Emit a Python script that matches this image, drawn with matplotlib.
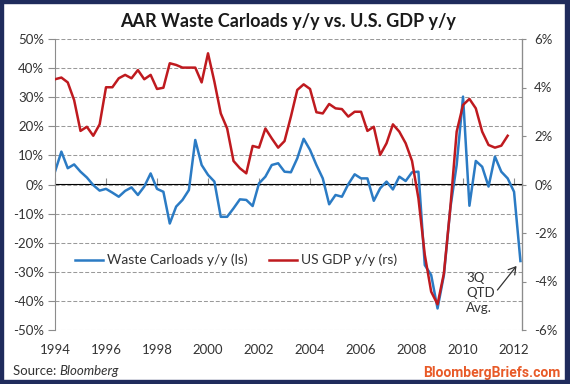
import numpy as np
import matplotlib
matplotlib.use("Agg")
import matplotlib.pyplot as plt
from matplotlib.patches import Rectangle
from matplotlib.ticker import FuncFormatter

plt.rcParams['font.family'] = ['Lato', 'DejaVu Sans']

# quarterly y/y changes, first point = 1Q 1994
waste = [4.4, 11.3, 5.6, 6.9, 4.4, 2.4, -0.2, -2.1, -1.5, -2.8,
         -4.2, -2.2, -1.0, -3.6, -0.7, 3.8, -1.5, -2.5, -13.4, -7.6,
         -5.3, -1.9, 15.3, 6.7, 3.3, 1.0, -11.1, -11.1, -8.2, -5.1,
         -5.3, -7.4, 0.4, 2.7, 6.7, 7.3, 4.4, 4.2, 9.0, 15.7,
         11.9, 6.7, 2.1, -6.8, -3.6, -4.2, 0.1, 3.5, 2.1, 2.1,
         -5.6, -1.3, 1.0, -1.7, 2.7, 1.2, 4.2, 4.4, -27.7, -31.1,
         -42.6, -31.1, -8.2, 6.7, 30.2, -7.3, 8.1, 6.1, -0.7, 9.6,
         4.4, 2.1, -2.5, -26.3]
gdp = [4.34, 4.41, 4.21, 3.48, 2.21, 2.38, 2.01, 2.48, 4.01, 4.01,
       4.38, 4.52, 4.38, 4.72, 4.34, 4.52, 3.94, 3.99, 5.0, 4.93,
       4.82, 4.82, 4.82, 4.21, 5.41, 4.24, 2.93, 2.31, 0.97, 0.67,
       0.46, 1.59, 1.52, 2.31, 1.90, 1.52, 1.79, 2.80, 3.90, 4.13,
       3.94, 2.98, 2.93, 3.32, 3.14, 3.11, 2.80, 3.0, 3.0, 2.21,
       2.38, 1.22, 1.70, 2.48, 2.18, 1.70, 0.97, -0.57, -2.90, -4.42,
       -4.94, -3.66, -0.98, 2.18, 3.28, 3.53, 3.14, 2.18, 1.63, 1.52,
       1.60, 2.01]
start_year = 1994
year_ticks = list(range(1994, 2013, 2))

x_waste = start_year + np.arange(len(waste)) / 4
x_gdp = start_year + np.arange(len(gdp)) / 4

BLUE = '#2b7bc4'
RED = '#bf1a1f'
GREY = '#8c8c8c'
TXT = '#333333'

fig = plt.figure(figsize=(5.7, 3.84), dpi=100)
ax = fig.add_axes([55/570, 1-330/384, 466.7/570, 291/384])
ax2 = ax.twinx()

line_w, = ax.plot(x_waste, waste, color=BLUE, lw=1.8, label='Waste Carloads y/y (ls)')
line_g, = ax2.plot(x_gdp, gdp, color=RED, lw=1.8, label='US GDP y/y (rs)')

ax.set_xlim(1994, 2012.3)
ax.set_ylim(-50, 50)
ax2.set_ylim(-6, 6)
ax.set_yticks(range(-50, 51, 10))
ax2.set_yticks(range(-6, 7, 2))
ax.yaxis.set_major_formatter(FuncFormatter(lambda v, p: f'{v:.0f}%'))
ax2.yaxis.set_major_formatter(FuncFormatter(lambda v, p: f'{v:.0f}%'))

ax.yaxis.grid(True, linestyle=(0, (3.8, 1.9)), color='#9a9a9a', lw=0.75)
ax.set_axisbelow(True)

for a in (ax, ax2):
    a.spines['top'].set_visible(False)
    a.spines['bottom'].set_visible(False)
ax2.spines['left'].set_visible(False)
ax.spines['left'].set_color(GREY)
ax2.spines['right'].set_color(GREY)

ax.tick_params(axis='y', length=5, color=GREY, labelcolor=TXT, labelsize=9.5, pad=3)
ax2.tick_params(axis='y', length=3, color=GREY, labelcolor=TXT, labelsize=9.5, pad=6)

ax.set_xticks(year_ticks)
ax.tick_params(axis='x', length=0, labelcolor=TXT, labelsize=9.5, pad=10)

# horizontal axis line at 0% with the year tick marks
zero = ax.secondary_xaxis(0.5)
zero.set_xticks(year_ticks)
zero.set_xticklabels([])
zero.xaxis.set_tick_params(direction='out', length=4, width=0.8, color=GREY)
zero.spines['bottom'].set_color(GREY)
zero.spines['bottom'].set_linewidth(0.9)

leg = ax2.legend(handles=[line_w, line_g], loc='center', bbox_to_anchor=(0.388, 0.24),
                 ncol=2, frameon=False, fontsize=10, handlelength=2.0,
                 handletextpad=0.25, columnspacing=1.6)
for t in leg.get_texts():
    t.set_color(TXT)

ax.annotate('', xy=(x_waste[-1], waste[-1]), xytext=(-23, -29), textcoords='offset pixels',
            arrowprops=dict(arrowstyle='->,head_length=0.5,head_width=0.3', color=TXT,
                            lw=0.9, shrinkA=0, shrinkB=4.5))
ax.annotate('3Q\nQTD\nAvg.', xy=(x_waste[-1], waste[-1]), xytext=(-54, -11),
            textcoords='offset pixels', ha='left', va='top', fontsize=9.5,
            linespacing=1.3, color=TXT)

fig.text(288/570, 1-22/384, 'AAR Waste Carloads y/y vs. U.S. GDP y/y', ha='center', va='center',
         fontsize=13, fontweight='bold', color='#1a1a1a')
src = fig.text(13/570, 1-371/384, 'Source: ', ha='left', va='center', fontsize=9.5, color=TXT)
ax.annotate('Bloomberg', xy=(1, 0), xycoords=src, ha='left', va='bottom',
            fontsize=9.5, fontstyle='italic', color=TXT)
fig.text(560/570, 1-373/384, 'BloombergBriefs.com', ha='right', va='center', fontsize=10,
         fontweight='bold', color='#e85a28', family='Roboto')

# dark frame around the chart
navy = '#1f2b5c'
for r in [(0, 0, 3/570, 1), (565/570, 0, 5/570, 1), (0, 0, 1, 4/384), (0, 1-3/384, 1, 3/384)]:
    fig.patches.append(Rectangle(r[:2], r[2], r[3], transform=fig.transFigure,
                                 color=navy, zorder=10))

fig.savefig('out.png', dpi=100)
